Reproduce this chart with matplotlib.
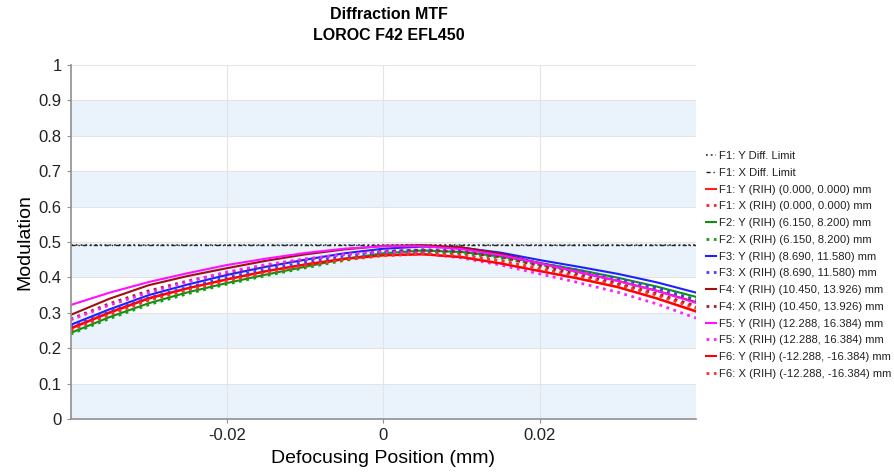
import matplotlib
matplotlib.use('Agg')
import matplotlib.pyplot as plt

# defocus positions (mm)
defocus = [-0.04, -0.035, -0.03, -0.025, -0.02, -0.015, -0.01, -0.005, 0.0,
           0.005, 0.01, 0.015, 0.02, 0.025, 0.03, 0.035, 0.04]

diff_limit = 0.491

f1_y = [0.257, 0.302, 0.342, 0.370, 0.395, 0.418, 0.437, 0.453, 0.463, 0.466, 0.458, 0.440, 0.418, 0.396, 0.372, 0.340, 0.303]
f1_x = [0.252, 0.297, 0.337, 0.366, 0.392, 0.415, 0.435, 0.452, 0.463, 0.468, 0.463, 0.447, 0.425, 0.403, 0.380, 0.351, 0.315]
f2_y = [0.243, 0.288, 0.327, 0.358, 0.384, 0.408, 0.430, 0.452, 0.468, 0.476, 0.472, 0.459, 0.441, 0.421, 0.399, 0.374, 0.345]
f2_x = [0.240, 0.284, 0.323, 0.354, 0.381, 0.405, 0.427, 0.448, 0.464, 0.472, 0.469, 0.455, 0.436, 0.415, 0.393, 0.367, 0.338]
f3_y = [0.266, 0.310, 0.350, 0.380, 0.407, 0.430, 0.450, 0.468, 0.481, 0.487, 0.484, 0.470, 0.449, 0.430, 0.410, 0.386, 0.357]
f3_x = [0.260, 0.303, 0.342, 0.372, 0.400, 0.423, 0.443, 0.460, 0.472, 0.478, 0.476, 0.462, 0.440, 0.420, 0.397, 0.370, 0.336]
f4_y = [0.294, 0.340, 0.378, 0.404, 0.426, 0.447, 0.465, 0.479, 0.489, 0.491, 0.485, 0.467, 0.440, 0.415, 0.390, 0.362, 0.330]
f4_x = [0.282, 0.326, 0.362, 0.390, 0.413, 0.433, 0.451, 0.465, 0.474, 0.477, 0.472, 0.458, 0.433, 0.408, 0.383, 0.354, 0.319]
f5_y = [0.322, 0.357, 0.387, 0.412, 0.435, 0.453, 0.469, 0.481, 0.488, 0.488, 0.480, 0.463, 0.440, 0.415, 0.390, 0.362, 0.328]
f5_x = [0.280, 0.322, 0.357, 0.388, 0.415, 0.436, 0.452, 0.465, 0.472, 0.468, 0.455, 0.435, 0.410, 0.385, 0.358, 0.325, 0.285]
f6_y = [0.255, 0.300, 0.340, 0.369, 0.394, 0.417, 0.436, 0.452, 0.462, 0.465, 0.457, 0.439, 0.418, 0.397, 0.373, 0.341, 0.305]
f6_x = [0.250, 0.295, 0.335, 0.364, 0.390, 0.413, 0.433, 0.450, 0.461, 0.466, 0.462, 0.446, 0.424, 0.402, 0.379, 0.350, 0.313]

labels = ["F1: Y Diff. Limit", "F1: X Diff. Limit",
          "F1: Y (RIH) (0.000, 0.000) mm", "F1: X (RIH) (0.000, 0.000) mm",
          "F2: Y (RIH) (6.150, 8.200) mm", "F2: X (RIH) (6.150, 8.200) mm",
          "F3: Y (RIH) (8.690, 11.580) mm", "F3: X (RIH) (8.690, 11.580) mm",
          "F4: Y (RIH) (10.450, 13.926) mm", "F4: X (RIH) (10.450, 13.926) mm",
          "F5: Y (RIH) (12.288, 16.384) mm", "F5: X (RIH) (12.288, 16.384) mm",
          "F6: Y (RIH) (-12.288, -16.384) mm", "F6: X (RIH) (-12.288, -16.384) mm"]

plt.rcParams['font.family'] = ['Liberation Sans', 'DejaVu Sans']

fig = plt.figure(figsize=(8.94, 4.72), dpi=100)
ax = fig.add_axes([0.079, 0.1123, 0.6995, 0.75])

# alternating bands
for k in range(0, 10, 2):
    ax.axhspan(k / 10, (k + 1) / 10, color='#eaf2fc', lw=0, zorder=0)

ax.set_xlim(-0.04, 0.04)
ax.set_ylim(0, 1)
ax.set_xticks([-0.02, 0, 0.02])
ax.set_xticklabels(['-0.02', '0', '0.02'])
ax.set_yticks([k / 10 for k in range(11)])
ax.set_yticklabels(['0'] + ['%.1f' % (k / 10) for k in range(1, 10)] + ['1'])
ax.grid(True, color='#e4e4e4', lw=0.8, zorder=1)
ax.set_axisbelow(True)

for s in ['top', 'right']:
    ax.spines[s].set_visible(False)
for s in ['left', 'bottom']:
    ax.spines[s].set_color('#909090')
    ax.spines[s].set_linewidth(1.2)
ax.tick_params(colors='#909090', labelcolor='#222222', labelsize=12, length=3)

ax.plot([-0.04, 0.04], [diff_limit, diff_limit], ':', color='#444444', lw=1.3, label=labels[0])
ax.plot([-0.04, 0.04], [diff_limit, diff_limit], '-.', color='#222222', lw=1.0, dashes=(3, 2, 1, 2), label=labels[1])

series = [(f1_y, '#ff2020', '-'), (f1_x, '#ff2020', ':'),
          (f2_y, '#109010', '-'), (f2_x, '#10a010', ':'),
          (f3_y, '#2020ff', '-'), (f3_x, '#4040ff', ':'),
          (f4_y, '#a01010', '-'), (f4_x, '#a02020', ':'),
          (f5_y, '#ff10ff', '-'), (f5_x, '#ff20ff', ':'),
          (f6_y, '#ff0000', '-'), (f6_x, '#ff3030', ':')]
for (vals, c, ls), lab in zip(series, labels[2:]):
    lw = 1.5 if ls == '-' else 2.0
    ax.plot(defocus, vals, ls, color=c, lw=lw, label=lab)

ax.set_xlabel('Defocusing Position (mm)', fontsize=14, labelpad=5)
ax.set_ylabel('Modulation', fontsize=14, labelpad=4)

fig.suptitle('Diffraction MTF\nLOROC F42 EFL450', x=0.435, y=0.985,
             fontsize=11.5, fontweight='bold', linespacing=1.5)

leg = ax.legend(loc='upper left', bbox_to_anchor=(1.016, 0.757), frameon=False,
                fontsize=8.1, handlelength=0.9, handletextpad=0.3, labelspacing=0.6,
                borderaxespad=0, borderpad=0)
for t in leg.get_texts():
    t.set_color('#222222')

fig.savefig('out.png', dpi=100)
